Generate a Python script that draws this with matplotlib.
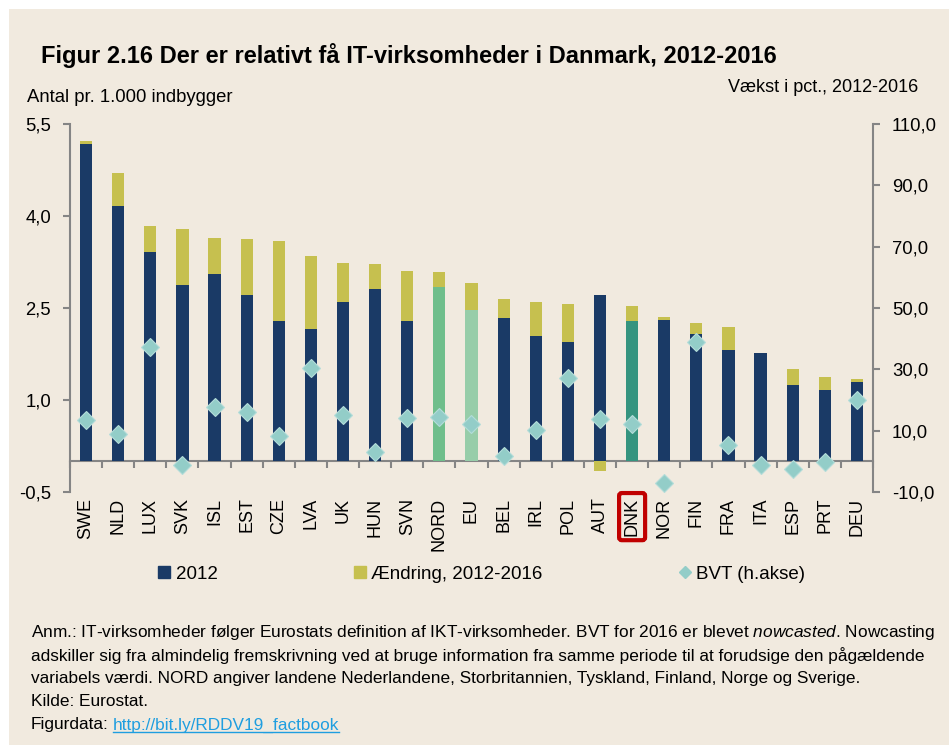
import numpy as np
import matplotlib.pyplot as plt
from matplotlib.lines import Line2D
from matplotlib.patches import Rectangle

plt.rcParams['font.family'] = ['Liberation Sans', 'DejaVu Sans']
plt.rcParams['mathtext.fontset'] = 'custom'
plt.rcParams['mathtext.it'] = 'Liberation Sans:italic'
plt.rcParams['mathtext.rm'] = 'Liberation Sans'

countries = ["SWE", "NLD", "LUX", "SVK", "ISL", "EST", "CZE", "LVA", "UK", "HUN",
             "SVN", "NORD", "EU", "BEL", "IRL", "POL", "AUT", "DNK", "NOR", "FIN",
             "FRA", "ITA", "ESP", "PRT", "DEU"]
# antal IT-virksomheder pr. 1.000 indbyggere i 2012
level_2012 = [5.18, 4.16, 3.41, 2.88, 3.05, 2.72, 2.29, 2.16, 2.59, 2.81,
              2.29, 2.85, 2.46, 2.34, 2.04, 1.94, 2.71, 2.28, 2.31, 2.07,
              1.81, 1.77, 1.24, 1.17, 1.30]
# ændring 2012-2016
change = [0.05, 0.54, 0.43, 0.90, 0.59, 0.91, 1.30, 1.18, 0.64, 0.41,
          0.81, 0.24, 0.45, 0.31, 0.56, 0.63, -0.15, 0.26, 0.05, 0.18,
          0.38, 0.0, 0.27, 0.21, 0.05]
# BVT-vækst i pct. (højre akse)
bvt = [13.6, 8.9, 37.4, -1.1, 17.7, 16.0, 8.3, 30.3, 15.1, 2.9,
       14.1, 14.6, 12.2, 1.6, 10.2, 27.3, 13.7, 12.2, -7.2, 39.0,
       5.2, -1.1, -2.5, -0.3, 20.1]

left_ticks = [-0.5, 1.0, 2.5, 4.0, 5.5]
right_ticks = [-10, 10, 30, 50, 70, 90, 110]

navy = "#1a3a66"
olive = "#c6c04f"
teal = "#93cdc8"
gray = "#858585"
beige = "#f1eadf"
special = {"NORD": "#6fbe8b", "EU": "#97cda9", "DNK": "#35947f"}

fig = plt.figure(figsize=(9.49, 7.45), dpi=100)
fig.patch.set_facecolor("white")
fig.add_artist(Rectangle((9 / 949, 0), 1, 1 - 9 / 745, transform=fig.transFigure,
                         facecolor=beige, edgecolor="none", zorder=-10))

ax = fig.add_axes([70 / 949, 1 - 492 / 745, 803 / 949, 368 / 745])
ax.set_facecolor("none")

x = np.arange(len(countries))
base = np.array(level_2012)
chg = np.array(change)
colors = [special.get(c, navy) for c in countries]
ax.bar(x, base, width=0.38, color=colors, zorder=2)
ax.bar(x, chg, width=0.38, bottom=np.where(chg < 0, 0, base), color=olive, zorder=2)

ax.set_xlim(-0.5, len(countries) - 0.5)
ax.set_ylim(-0.5, 5.5)
ax.set_yticks(left_ticks)
ax.set_yticklabels([f"{v:.1f}".replace(".", ",") for v in left_ticks])
ax.set_xticks(x)
ax.set_xticklabels(countries, rotation=90, fontsize=13)
ax.tick_params(axis="x", length=0, pad=4)
ax.tick_params(axis="y", length=5, width=1.5, color=gray, pad=8.5, labelsize=13.3)
for s in ["top", "right", "bottom"]:
    ax.spines[s].set_visible(False)
ax.spines["left"].set_color(gray)
ax.spines["left"].set_linewidth(1.5)

# nul-linje med skillestreger mellem landene
zero = ax.secondary_xaxis(0.5 / 6)
zero.set_xticks(np.arange(len(countries) + 1) - 0.5)
zero.tick_params(length=5, width=1.5, color=gray, labelbottom=False)
zero.spines["bottom"].set_color(gray)
zero.spines["bottom"].set_linewidth(1.5)

lbl = ax.get_xticklabels()[countries.index("DNK")]
lbl.set_bbox(dict(boxstyle="round,pad=0.25,rounding_size=0.15", facecolor="none",
                  edgecolor="#c00000", linewidth=3))

ax2 = ax.twinx()
ax2.patch.set_visible(False)
ax2.plot(x, bvt, ls="none", marker="D", ms=9, color=teal, markeredgecolor="#b4ddd9",
         markeredgewidth=0.8, zorder=3)
ax2.set_ylim(-10, 110)
ax2.set_yticks(right_ticks)
ax2.set_yticklabels([f"{v:.1f}".replace(".", ",") for v in right_ticks])
ax2.tick_params(axis="y", length=5, width=1.5, color=gray, pad=8.5, labelsize=13.3)
for s in ["top", "left", "bottom"]:
    ax2.spines[s].set_visible(False)
ax2.spines["right"].set_color(gray)
ax2.spines["right"].set_linewidth(1.5)

handles = [
    Line2D([], [], ls="none", marker="s", ms=8, color=navy),
    Line2D([], [], ls="none", marker="s", ms=8, color=olive),
    Line2D([], [], ls="none", marker="D", ms=6.5, color=teal),
]
fig.legend(handles, ["2012", "Ændring, 2012-2016", "BVT (h.akse)"], ncol=3,
           loc="center", bbox_to_anchor=(482 / 949, 1 - 574 / 745), frameon=False,
           fontsize=13.5, handlelength=0.6, handletextpad=0.3, columnspacing=7.3)

fig.text(41 / 949, 1 - 55 / 745, "Figur 2.16 Der er relativt få IT-virksomheder i Danmark, 2012-2016",
         fontsize=17, fontweight="bold", va="center")
fig.text(27 / 949, 1 - 97 / 745, "Antal pr. 1.000 indbygger", fontsize=13.3, va="center")
fig.text(918 / 949, 1 - 88 / 745, "Vækst i pct., 2012-2016", fontsize=13, va="center", ha="right")

notes = [
    "Anm.: IT-virksomheder følger Eurostats definition af IKT-virksomheder. BVT for 2016 er blevet $\\it{nowcasted}$. Nowcasting",
    "adskiller sig fra almindelig fremskrivning ved at bruge information fra samme periode til at forudsige den pågældende",
    "variabels værdi. NORD angiver landene Nederlandene, Storbritannien, Tyskland, Finland, Norge og Sverige.",
    "Kilde: Eurostat.",
]
note_y = [632, 656, 679, 701]
for t, yy in zip(notes, note_y):
    fig.text(31 / 949, 1 - yy / 745, t, fontsize=12.4, va="center")

src = fig.text(31 / 949, 1 - 725 / 745, "Figurdata:", fontsize=12.4, va="center")
fig.canvas.draw()
r = fig.canvas.get_renderer()
bb = src.get_window_extent(r)
inv = fig.transFigure.inverted()
link_x = inv.transform((bb.x1 + 4, 0))[0]
link = fig.text(link_x, 1 - 725 / 745, "http://bit.ly/RDDV19_factbook", fontsize=12.4,
                va="center", color="#1f9ee0")
fig.canvas.draw()
lb = link.get_window_extent(r)
p0 = inv.transform((lb.x0, lb.y0 + 1))
p1 = inv.transform((lb.x1, lb.y0 + 1))
fig.add_artist(Line2D([p0[0], p1[0]], [p0[1], p1[1]], color="#1f9ee0", lw=1,
                      transform=fig.transFigure))

fig.savefig("out.png", dpi=100, facecolor=fig.get_facecolor())
